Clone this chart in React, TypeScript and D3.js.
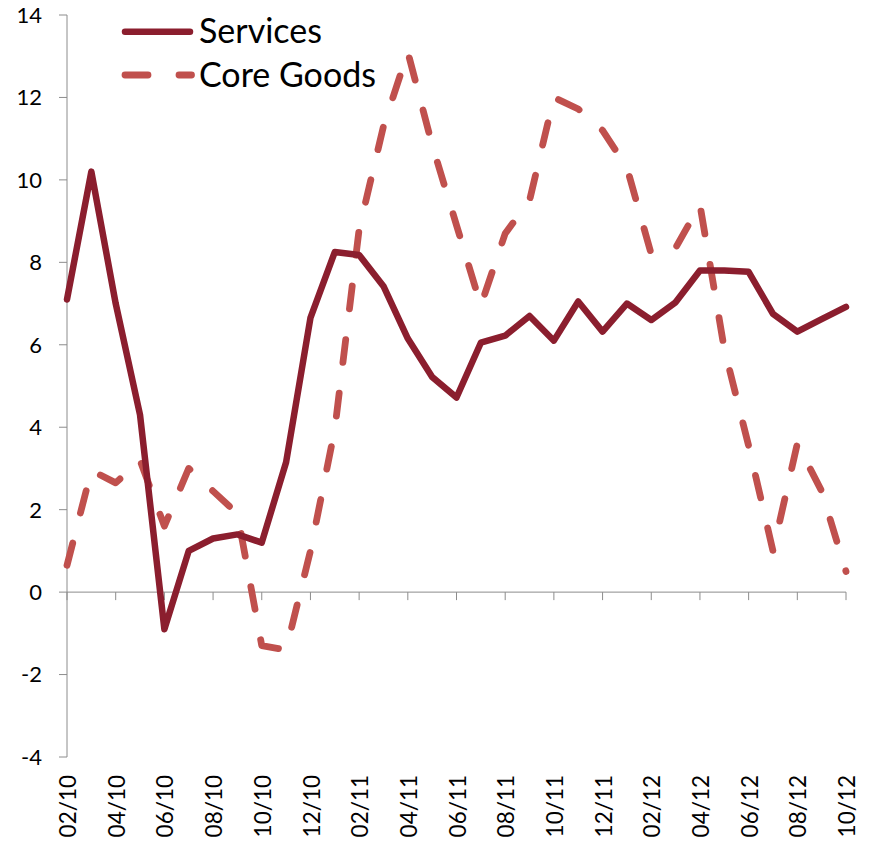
import React from "react";
import * as d3 from "d3";

const categories = [
  "02/10","03/10","04/10","05/10","06/10","07/10","08/10","09/10","10/10","11/10","12/10",
  "01/11","02/11","03/11","04/11","05/11","06/11","07/11","08/11","09/11","10/11","11/11","12/11",
  "01/12","02/12","03/12","04/12","05/12","06/12","07/12","08/12","09/12","10/12",
];

const services = [
  7.1, 10.2, 7.0, 4.3, -0.9, 1.0, 1.3, 1.4, 1.2, 3.15, 6.65,
  8.25, 8.18, 7.42, 6.15, 5.22, 4.72, 6.05, 6.22, 6.7, 6.1, 7.05, 6.32,
  7.0, 6.6, 7.03, 7.8, 7.8, 7.77, 6.75, 6.32, 6.62, 6.92,
];

const coreGoods = [
  0.65, 2.95, 2.65, 3.2, 1.6, 3.0, 2.45, 1.9, -1.3, -1.4, 1.0,
  3.95, 8.8, 11.3, 13.1, 10.85, 8.9, 6.95, 8.7, 9.5, 12.0, 11.72, 11.2,
  10.3, 8.2, 8.35, 9.4, 5.9, 3.55, 1.0, 3.6, 2.45, 0.5,
];

const yTicks = [-4, -2, 0, 2, 4, 6, 8, 10, 12, 14];

const seriesNames = ["Services", "Core Goods"];

const W = 877;
const H = 843;
const FONT = "Lato, 'Open Sans', sans-serif";

export default function App() {
  const x = d3.scaleLinear().domain([0, categories.length - 1]).range([67, 846]);
  const y = d3.scaleLinear().domain([-4, 14]).range([757, 15]);

  const line = d3
    .line<number>()
    .x((_, i) => x(i))
    .y((d) => y(d));

  const servColor = "#8B1E2E";
  const goodsColor = "#C0504D";
  const axisColor = "#8C8C8C";
  const xTickIdx = categories.map((_, i) => i).filter((i) => i % 2 === 0);

  return (
    <svg
      width={W}
      height={H}
      style={{ position: "absolute", left: 0, top: 0, background: "#fff" }}
      fontFamily={FONT}
    >
      {/* y axis */}
      <line x1={x(0)} x2={x(0)} y1={y(14)} y2={y(-4)} stroke={axisColor} strokeWidth={1} />
      {yTicks.map((t) => (
        <g key={t}>
          <line x1={x(0) - 8} x2={x(0)} y1={y(t)} y2={y(t)} stroke={axisColor} strokeWidth={1} />
          <text x={42} y={y(t)} dy="0.36em" textAnchor="end" fontSize={22} fill="#000">
            {t}
          </text>
        </g>
      ))}
      {/* x axis at 0 */}
      <line x1={x(0)} x2={x(categories.length - 1)} y1={y(0)} y2={y(0)} stroke={axisColor} strokeWidth={1} />
      {xTickIdx.map((i) => (
        <g key={i}>
          <line x1={x(i)} x2={x(i)} y1={y(0)} y2={y(0) + 8} stroke={axisColor} strokeWidth={1} />
          <text
            transform={`translate(${x(i) + 1},775) rotate(-90)`}
            textAnchor="end"
            dy="0.36em"
            fontSize={22.5}
            fill="#000"
          >
            {categories[i]}
          </text>
        </g>
      ))}

      {/* series */}
      <path
        d={line(coreGoods) || ""}
        fill="none"
        stroke={goodsColor}
        strokeWidth={6.8}
        strokeDasharray="23 31"
        strokeLinecap="round"
        strokeLinejoin="round"
      />
      <path
        d={line(services) || ""}
        fill="none"
        stroke={servColor}
        strokeWidth={6.5}
        strokeLinecap="round"
        strokeLinejoin="round"
      />

      {/* legend */}
      <line x1={125} x2={190} y1={31.7} y2={31.7} stroke={servColor} strokeWidth={6.5} strokeLinecap="round" />
      <text x={199} y={43} fontSize={34} fill="#000">{seriesNames[0]}</text>
      <line
        x1={125}
        x2={191.5}
        y1={75}
        y2={75}
        stroke={goodsColor}
        strokeWidth={6.8}
        strokeLinecap="round"
        strokeDasharray="23 31"
      />
      <text x={199} y={87} fontSize={34} fill="#000">{seriesNames[1]}</text>
    </svg>
  );
}
